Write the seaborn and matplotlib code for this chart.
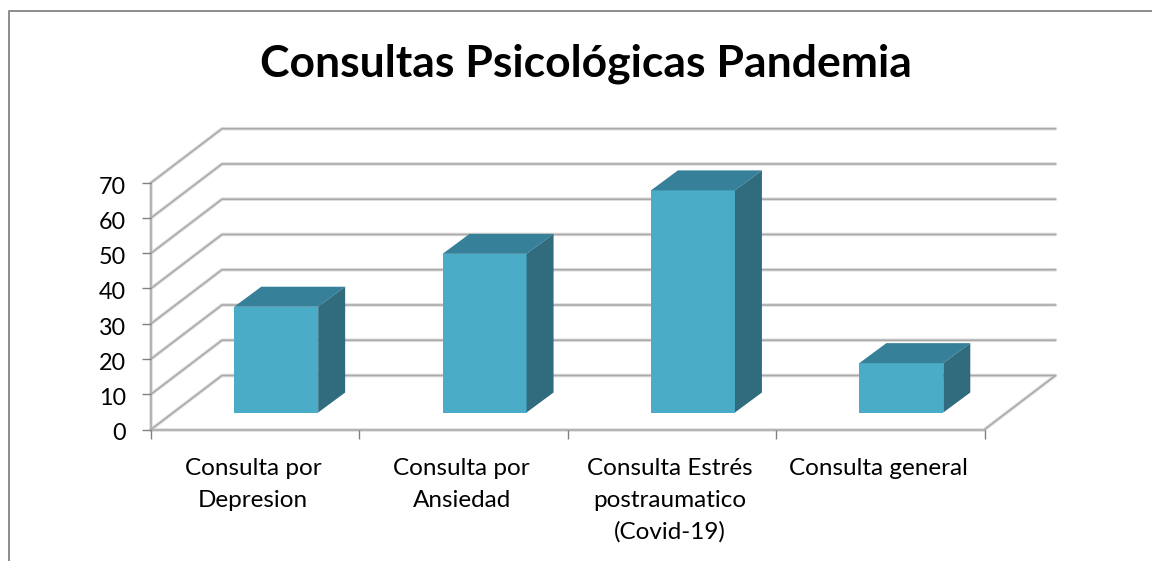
import matplotlib
matplotlib.use("Agg")
import matplotlib.pyplot as plt
import pandas as pd
import seaborn as sns
from matplotlib.lines import Line2D
from matplotlib.patches import Polygon
from matplotlib.transforms import Affine2D, IdentityTransform

categories = ["Consulta por\nDepresion", "Consulta por\nAnsiedad",
              "Consulta Estrés\npostraumatico\n(Covid-19)", "Consulta general"]
consultas = [30, 45, 63, 14]
y_ticks = [0, 10, 20, 30, 40, 50, 60, 70]
titulo = "Consultas Psicológicas Pandemia"

W, H = 1152, 561
FRONT, TOP, SIDE = "#4aacc6", "#37809a", "#306c7e"
GRID, GRID_SOFT = "#a8a8a8", "#dedede"

# 3d look, all in pixels
WALL_DX, WALL_DY = 71, 54
BAR_DX, BAR_DY = 21, 17
DEPTH_DX, DEPTH_DY = 27, 20

sns.set_theme(style="white")
plt.rcParams["font.family"] = ["Lato", "DejaVu Sans"]

fig = plt.figure(figsize=(W / 100, H / 100), dpi=100)
ax = fig.add_axes([151 / W, 1 - 429.5 / H, 833.5 / W, 246.8 / H])
ax.patch.set_alpha(0)

df = pd.DataFrame({"categoria": categories, "consultas": consultas})
sns.barplot(data=df, x="categoria", y="consultas", color=FRONT, saturation=1,
            width=0.403, ax=ax, zorder=3)
ax.set_xlim(-0.5, 3.5)
ax.set_ylim(0, 70)
ax.set_xlabel("")
ax.set_ylabel("")

px = ax.transData.transform
ident = IdentityTransform()


def soft_line(xs, ys):
    # zorder below the axes so the bars stay in front
    fig.add_artist(Line2D(xs, ys, transform=ident, color=GRID_SOFT, lw=2.6, zorder=-2))
    fig.add_artist(Line2D(xs, ys, transform=ident, color=GRID, lw=1.1, zorder=-1))


# walls
for v in y_ticks:
    x0, y0 = px((-0.5, v))
    x1, _ = px((3.5, v))
    soft_line([x0, x0 + WALL_DX, x1 + WALL_DX], [y0, y0 + WALL_DY, y0 + WALL_DY])
x0, y0 = px((-0.5, 0))
x1, y1 = px((3.5, 70))
soft_line([x1, x1 + WALL_DX], [y0, y0 + WALL_DY])
soft_line([x0, x1], [y0, y0])
soft_line([x0, x0], [y0, y1])

# bars: move the front face forward, add top and side
shift = ax.transData + Affine2D().translate(BAR_DX, BAR_DY)
for bar in list(ax.patches):
    bar.set_transform(shift)
    bar.set_linewidth(0)
    bar.set_clip_on(False)
    (bx0, by0), (bx1, by1) = shift.transform(
        [(bar.get_x(), 0), (bar.get_x() + bar.get_width(), bar.get_height())])
    ax.add_patch(Polygon([(bx0, by1), (bx0 + DEPTH_DX, by1 + DEPTH_DY),
                          (bx1 + DEPTH_DX, by1 + DEPTH_DY), (bx1, by1)],
                         transform=ident, color=TOP, lw=0, zorder=3, clip_on=False))
    ax.add_patch(Polygon([(bx1, by0), (bx1 + DEPTH_DX, by0 + DEPTH_DY),
                          (bx1 + DEPTH_DX, by1 + DEPTH_DY), (bx1, by1)],
                         transform=ident, color=SIDE, lw=0, zorder=3, clip_on=False))

sns.despine(ax=ax, left=True, bottom=True)
ax.set_yticks(y_ticks)
ax.set_xticks([-0.5, 0.5, 1.5, 2.5, 3.5], labels=[])
ax.set_xticks(range(4), labels=categories, minor=True)
ax.tick_params(axis="both", which="major", length=6.5, width=1, color="#808080",
               bottom=True, left=True)
ax.tick_params(axis="y", labelsize=16.8, pad=11.5, labelcolor="black")
ax.tick_params(axis="x", which="minor", length=0, labelsize=17.5, pad=20.5,
               labelcolor="black", bottom=True)
for lab in ax.get_xticklabels(minor=True):
    lab.set_linespacing(1.62)
    lab.set_transform(lab.get_transform() + Affine2D().translate(-2, 0))
for lab in ax.get_yticklabels():
    lab.set_transform(lab.get_transform() + Affine2D().translate(0, -2.5))

# chart area border: only left and top show, the rest is cut off in the picture
fig.add_artist(Line2D([8.5, 8.5, W], [0, H - 11, H - 11], transform=ident,
                      color="#8c8c8c", lw=1.4))

fig.text(585.5 / W, 1 - 63.5 / H, titulo, ha="center", va="center", fontsize=32,
         fontweight="bold", color="black")

fig.savefig("out.png", dpi=100)
